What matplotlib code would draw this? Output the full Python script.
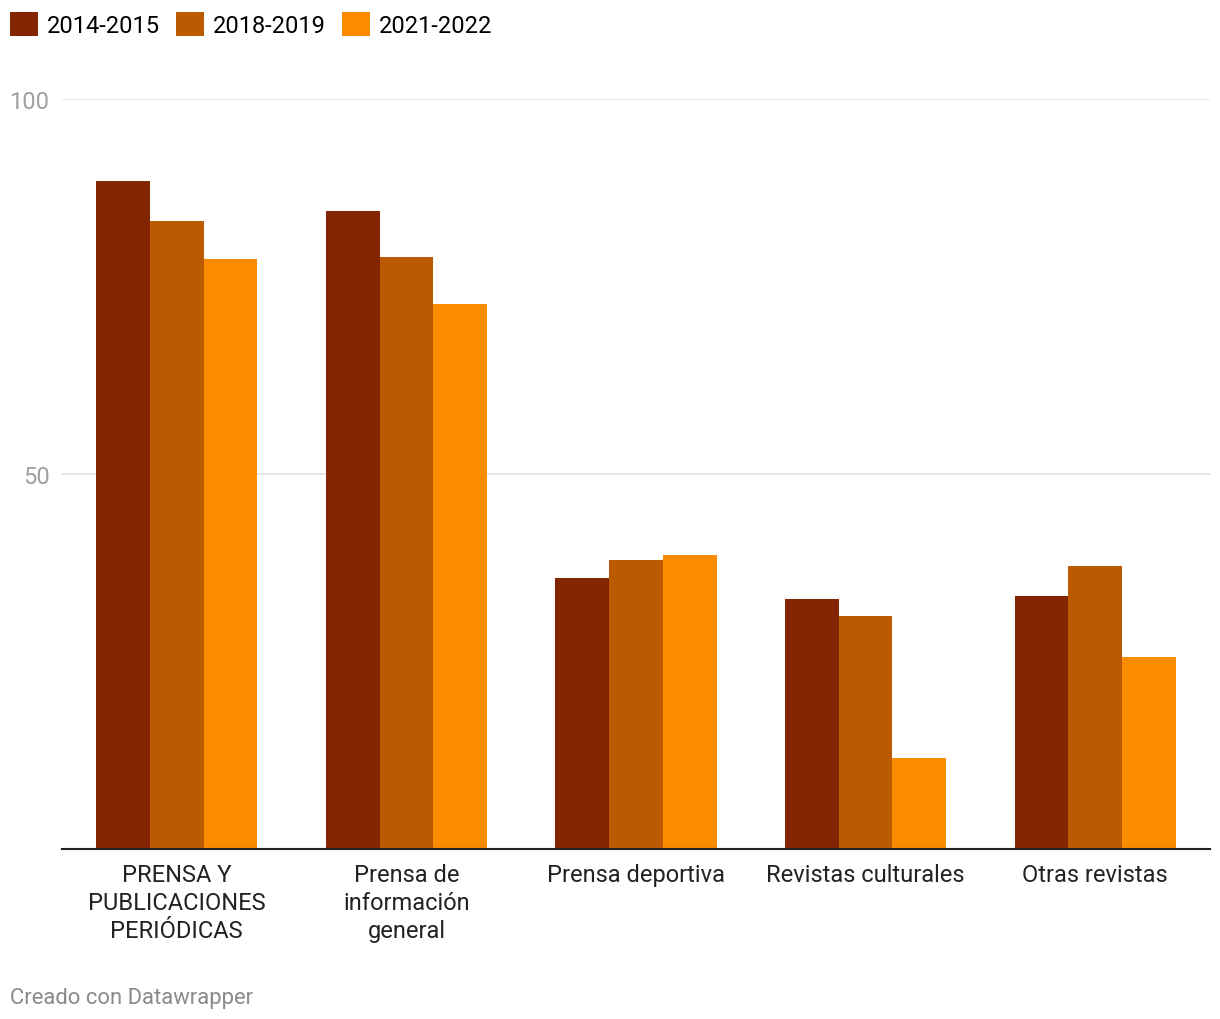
import matplotlib.pyplot as plt
from matplotlib.patches import Patch
import numpy as np

plt.rcParams['font.family'] = ['Roboto', 'DejaVu Sans']

categories = ["PRENSA Y\nPUBLICACIONES\nPERIÓDICAS", "Prensa de\ninformación\ngeneral",
              "Prensa deportiva", "Revistas culturales", "Otras revistas"]
series = ["2014-2015", "2018-2019", "2021-2022"]
v2014 = [89.1, 85.1, 36.1, 33.3, 33.7]
v2018 = [83.7, 78.9, 38.5, 31.1, 37.7]
v2021 = [78.7, 72.7, 39.2, 12.1, 25.6]
colors = ["#832500", "#bb5a00", "#fb8c00"]

fig = plt.figure(figsize=(12.2, 10.2), dpi=100)
ax = fig.add_axes([62/1220, 1-850/1020, 1148/1220, 750/1020])

x = np.arange(len(categories))
w = 0.234
for i, vals in enumerate([v2014, v2018, v2021]):
    ax.bar(x + (i-1)*w, vals, w, color=colors[i], linewidth=0, zorder=2)

ax.set_xlim(-0.5, 4.5)
ax.set_ylim(0, 100)
ax.set_yticks([50, 100])
ax.set_yticklabels(["50", "100"])
ax.yaxis.grid(True, color="#e1e1e1", linewidth=1.2, zorder=0)
ax.tick_params(axis='y', length=0, pad=9, labelsize=17, labelcolor="#a0a0a0")
ax.set_xticks(x)
ax.set_xticklabels(categories, fontsize=17, color="#222222", linespacing=1.27, va='top')
ax.tick_params(axis='x', length=0, pad=10)
for s in ['top', 'right', 'left']:
    ax.spines[s].set_visible(False)
ax.spines['bottom'].set_color("#222222")
ax.spines['bottom'].set_linewidth(1.5)
ax.spines['bottom'].set_zorder(3)

handles = [Patch(facecolor=c, edgecolor='none') for c in colors]
fig.legend(handles, series, loc='upper left', bbox_to_anchor=(0.0, 1-3/1020), ncol=3,
           frameon=False, fontsize=17, handlelength=1.19, handleheight=1.19,
           handletextpad=0.38, columnspacing=0.68, borderaxespad=0.32, borderpad=0.1)

fig.text(10/1220, 1-999/1020, "Creado con Datawrapper", fontsize=15.8, color="#8a8a8a",
         va='center', ha='left')

fig.savefig("out.png", dpi=100)
